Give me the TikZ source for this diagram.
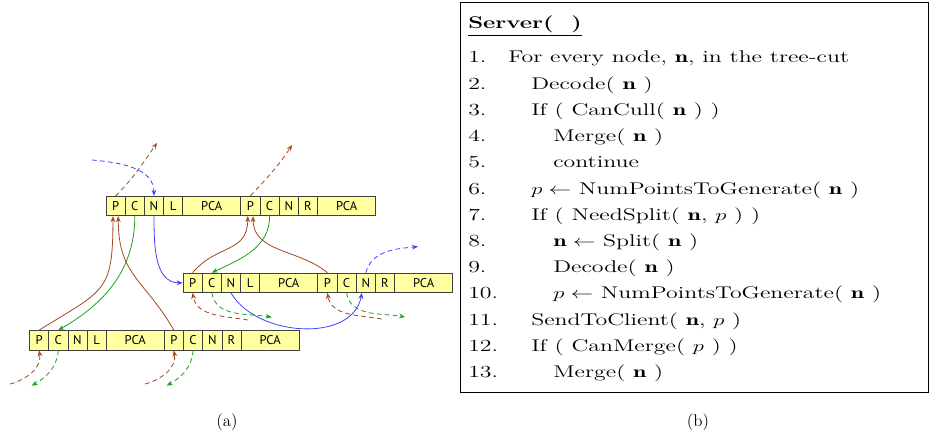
\documentclass[tikz,border=0pt]{standalone}
\usepackage{fontspec}
\usepackage{amsmath}
\usepackage{graphicx}
\usepackage{tikz}
\usetikzlibrary{arrows.meta}
\newfontfamily\cellfont{PT Sans}
\newcommand{\algtext}[1]{\scalebox{1.41}[1]{#1}}
\definecolor{pbrown}{RGB}{160,72,30}
\definecolor{cgreen}{RGB}{30,160,30}
\definecolor{nblue}{RGB}{64,64,255}
\definecolor{cellfill}{RGB}{255,255,160}

\begin{document}
\begin{tikzpicture}[x=0.75pt,y=0.75pt,
  cell/.style={draw=black!75, fill=cellfill, line width=0.6pt, inner sep=0pt,
    minimum width=14.4pt, minimum height=14.6pt, font=\cellfont\fontsize{9.5}{10}\selectfont},
  pca/.style={cell, minimum width=43.5pt},
  link/.style={line width=0.6pt, -{Stealth[length=4.5pt,width=3.6pt]}},
  dlink/.style={link, dash pattern=on 3.5pt off 2.5pt},
  alg/.style={anchor=base west, inner sep=0pt, font=\fontsize{12.7}{14}\selectfont}]
\useasboundingbox (0,0) rectangle (930,440);
%%% Draws buffers (a)
% top buffer
\node[cell] (tP1) at (115.6,234) {P};
\node[cell] (tC1) at (134.8,234) {C};
\node[cell] (tN1) at (154,234) {N};
\node[cell] (tL1) at (173.2,234) {L};
\node[pca] (tPCA1) at (211.8,234) {PCA};
\node[cell] (tP2) at (250.4,234) {P};
\node[cell] (tC2) at (269.6,234) {C};
\node[cell] (tN2) at (288.8,234) {N};
\node[cell] (tR2) at (308,234) {R};
\node[pca] (tPCA2) at (346.6,234) {PCA};
% middle buffer
\node[cell] (mP1) at (192.6,157.2) {P};
\node[cell] (mC1) at (211.8,157.2) {C};
\node[cell] (mN1) at (231,157.2) {N};
\node[cell] (mL1) at (250.2,157.2) {L};
\node[pca] (mPCA1) at (288.8,157.2) {PCA};
\node[cell] (mP2) at (327.4,157.2) {P};
\node[cell] (mC2) at (346.6,157.2) {C};
\node[cell] (mN2) at (365.8,157.2) {N};
\node[cell] (mR2) at (385,157.2) {R};
\node[pca] (mPCA2) at (423.6,157.2) {PCA};
% bottom buffer
\node[cell] (bP1) at (39.1,99.7) {P};
\node[cell] (bC1) at (58.3,99.7) {C};
\node[cell] (bN1) at (77.5,99.7) {N};
\node[cell] (bL1) at (96.7,99.7) {L};
\node[pca] (bPCA1) at (135.3,99.7) {PCA};
\node[cell] (bP2) at (173.9,99.7) {P};
\node[cell] (bC2) at (193.1,99.7) {C};
\node[cell] (bN2) at (212.3,99.7) {N};
\node[cell] (bR2) at (231.5,99.7) {R};
\node[pca] (bPCA2) at (270.1,99.7) {PCA};
% loose ends
\coordinate (bIn) at (92,280);
\coordinate (tOut1) at (157,297);
\coordinate (tOut2) at (292,295);
\coordinate (mOut) at (418,193.3);
\coordinate (mIn1) at (248,120);
\coordinate (mIn2) at (381.7,121);
\coordinate (mOut1) at (271.7,122.7);
\coordinate (mOut2) at (405,123);
\coordinate (bIn1) at (10,56);
\coordinate (bIn2) at (145,56);
\coordinate (bOut1) at (31.7,54.3);
\coordinate (bOut2) at (166.7,54.3);
% draws parent links
\draw[dlink, pbrown] (tP1.north) to[out=45,in=-125] (tOut1);
\draw[dlink, pbrown] (tP2.north) to[out=47,in=-123] (tOut2);
\draw[link, pbrown] (bP1.north) to[out=32,in=-90,looseness=1.45] ([xshift=-2pt]tP1.south);
\draw[link, pbrown] (bP2.north) to[out=120,in=-90,looseness=1.2] ([xshift=2pt]tP1.south);
\draw[link, pbrown] (mP1.north) to[out=50,in=-90,looseness=1.2] ([xshift=-2pt]tP2.south);
\draw[link, pbrown] (mP2.north) to[out=140,in=-90] ([xshift=2pt]tP2.south);
\draw[dlink, pbrown] (mIn1) to[out=170,in=-80] (mP1.south);
\draw[dlink, pbrown] (mIn2) to[out=170,in=-80] (mP2.south);
\draw[dlink, pbrown] (bIn1) to[out=15,in=-80] (bP1.south);
\draw[dlink, pbrown] (bIn2) to[out=15,in=-80] (bP2.south);
% draws child links
\draw[link, cgreen] (tC1.south) to[out=-90,in=30] (bC1.north);
\draw[link, cgreen] (tC2.south) to[out=-90,in=25] (mC1.north);
\draw[dlink, cgreen] (mC1.south) to[out=-80,in=170] (mOut1);
\draw[dlink, cgreen] (mC2.south) to[out=-80,in=170] (mOut2);
\draw[dlink, cgreen] (bC1.south) to[out=-95,in=30] (bOut1);
\draw[dlink, cgreen] (bC2.south) to[out=-95,in=30] (bOut2);
% draws next links
\draw[dlink, nblue] (bIn) to[out=-5,in=90] (tN1.north);
\draw[link, nblue] (tN1.south) to[out=-90,in=180] (mP1.west);
\draw[link, nblue] (mN1.south) to[out=-60,in=-100] ([xshift=-3pt]mN2.south);
\draw[dlink, nblue] (mN2.north) to[out=75,in=185] (mOut);
\node (capa) at (227,18) {\fontsize{12.7}{14}\selectfont (a)};
%%% Draws the server routine (b)
\draw[line width=0.7pt] (460,438) rectangle (928,48);
\node[alg] (head) at (468,411) {\algtext{\underline{\textbf{Server(~~)}}}};
% line numbers
\node[alg] (n1) at (468,377) {\algtext{1.}};
\node[alg] (n2) at (468,350.8) {\algtext{2.}};
\node[alg] (n3) at (468,324.6) {\algtext{3.}};
\node[alg] (n4) at (468,298.4) {\algtext{4.}};
\node[alg] (n5) at (468,272.2) {\algtext{5.}};
\node[alg] (n6) at (468,246) {\algtext{6.}};
\node[alg] (n7) at (468,219.8) {\algtext{7.}};
\node[alg] (n8) at (468,193.6) {\algtext{8.}};
\node[alg] (n9) at (468,167.4) {\algtext{9.}};
\node[alg] (n10) at (468,141.2) {\algtext{10.}};
\node[alg] (n11) at (468,115) {\algtext{11.}};
\node[alg] (n12) at (468,88.8) {\algtext{12.}};
\node[alg] (n13) at (468,62.6) {\algtext{13.}};
% statements
\node[alg] (s1) at (508,377) {\algtext{For every node, $\mathbf{n}$, in the tree-cut}};
\node[alg] (s2) at (531,350.8) {\algtext{Decode( $\mathbf{n}$ )}};
\node[alg] (s3) at (531,324.6) {\algtext{If ( CanCull( $\mathbf{n}$ ) )}};
\node[alg] (s4) at (553,298.4) {\algtext{Merge( $\mathbf{n}$ )}};
\node[alg] (s5) at (553,272.2) {\algtext{continue}};
\node[alg] (s6) at (531,246) {\algtext{$p \leftarrow$ NumPointsToGenerate( $\mathbf{n}$ )}};
\node[alg] (s7) at (531,219.8) {\algtext{If ( NeedSplit( $\mathbf{n}$, $p$ ) )}};
\node[alg] (s8) at (553,193.6) {\algtext{$\mathbf{n} \leftarrow$ Split( $\mathbf{n}$ )}};
\node[alg] (s9) at (553,167.4) {\algtext{Decode( $\mathbf{n}$ )}};
\node[alg] (s10) at (553,141.2) {\algtext{$p \leftarrow$ NumPointsToGenerate( $\mathbf{n}$ )}};
\node[alg] (s11) at (531,115) {\algtext{SendToClient( $\mathbf{n}$, $p$ )}};
\node[alg] (s12) at (531,88.8) {\algtext{If ( CanMerge( $p$ ) )}};
\node[alg] (s13) at (553,62.6) {\algtext{Merge( $\mathbf{n}$ )}};
\node (capb) at (698,18) {\fontsize{12.7}{14}\selectfont (b)};
\end{tikzpicture}
\end{document}
